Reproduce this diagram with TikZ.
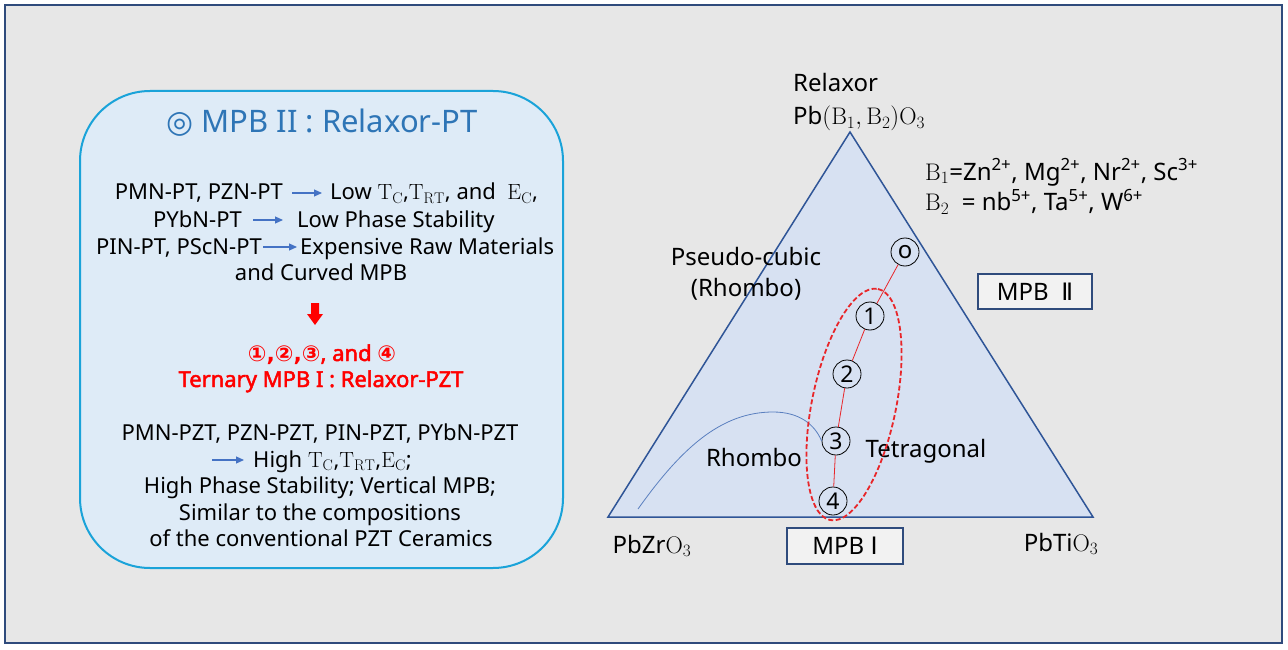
\documentclass[tikz,border=0pt]{standalone}
\usepackage{fontspec}
\newfontfamily\nsans{Noto Sans}[AutoFakeBold=2.2]
\newfontfamily\dejavu{DejaVu Sans}
\usetikzlibrary{arrows.meta}
\definecolor{bgray}{HTML}{E7E7E7}
\definecolor{frameblue}{HTML}{2F4B7C}
\definecolor{boxfill}{HTML}{DEEBF7}
\definecolor{boxline}{HTML}{1AA3D9}
\definecolor{trifill}{HTML}{D7E1F2}
\definecolor{triline}{HTML}{2F5597}
\definecolor{titleblue}{HTML}{2E75B6}
\definecolor{arrowblue}{HTML}{4472C4}
\definecolor{mpbred}{HTML}{FF0000}
\definecolor{ellred}{HTML}{E8262A}
\definecolor{curveblue}{HTML}{5A7FBF}
\definecolor{mpbfill}{HTML}{F2F2F2}
\begin{document}
\begin{tikzpicture}[x=1pt,y=-1pt,
  txt/.style={inner sep=0pt, font=\nsans\fontsize{22}{26}\selectfont},
  redtxt/.style={inner sep=0pt, text=mpbred, font=\nsans\bfseries\fontsize{22}{26}\selectfont},
  rtxt/.style={inner sep=0pt, font=\nsans\fontsize{24}{28}\selectfont},
  barrow/.style={-{Triangle[length=8pt,width=7pt]}, arrowblue, line width=1.2pt},
  num/.style={circle, draw, line width=0.8pt, inner sep=0pt, minimum size=28pt, font=\nsans\fontsize{23}{23}\selectfont},
  mpbbox/.style={draw=frameblue, fill=mpbfill, line width=1.5pt, inner sep=0pt, font=\nsans\fontsize{24}{28}\selectfont}
]
\useasboundingbox (0,0) rectangle (1288,650);
\fill[white] (0,0) rectangle (1288,650);
\draw[frameblue, fill=bgray, line width=2pt] (5,5) rectangle (1282,643);

% left rounded box
\draw[boxline, fill=boxfill, line width=2pt, rounded corners=70pt] (80,91) rectangle (563,568);

\node[anchor=base, inner sep=0pt, text=titleblue, font=\nsans\fontsize{31}{31}\selectfont] (title) at (322,133) {{\dejavu ◎} MPB II : Relaxor-PT};

\node[txt, anchor=base east] (l1a) at (283,200) {PMN-PT, PZN-PT};
\node[txt, anchor=base west] (l1b) at (330,200) {Low $\mathrm{T_C}$,$\mathrm{T_{RT}}$, and \ $\mathrm{E_C}$,};
\draw[barrow] ([shift={(9,-7)}]l1a.base east) -- ([shift={(-8,-7)}]l1b.base west);

\node[txt, anchor=base east] (l2a) at (242,227) {PYbN-PT};
\node[txt, anchor=base west] (l2b) at (297,227) {Low Phase Stability};
\draw[barrow] ([shift={(11,-7)}]l2a.base east) -- ([shift={(-14,-7)}]l2b.base west);

\node[txt, anchor=base east] (l3a) at (262,254) {PIN-PT, PScN-PT};
\node[txt, anchor=base west] (l3b) at (300,254) {Expensive Raw Materials};
\draw[barrow] ([shift={(1,-7)}]l3a.base east) -- ([shift={(-3,-7)}]l3b.base west);

\node[txt, anchor=base] (l4) at (321,280) {and Curved MPB};

\fill[mpbred] (311,303) -- (319,303) -- (319,314) -- (323,314) -- (315,325) -- (307,314) -- (311,314) -- cycle;

\node[redtxt, anchor=base] (r1) at (322,361) {{\dejavu\bfseries ①,②,③}, and {\dejavu\bfseries ④}};
\node[redtxt, anchor=base] (r2) at (321,387) {Ternary MPB I : Relaxor-PZT};

\node[txt, anchor=base] (m1) at (320,440) {PMN-PZT, PZN-PZT, PIN-PZT, PYbN-PZT};
\coordinate (m2s) at (212,460);
\node[txt, anchor=base west] (m2) at (253,467) {High $\mathrm{T_C}$,$\mathrm{T_{RT}}$,$\mathrm{E_C}$;};
\draw[barrow] (m2s) -- ([shift={(-9,-7)}]m2.base west);
\node[txt, anchor=base] (m3) at (320,493) {High Phase Stability; Vertical MPB;};
\node[txt, anchor=base] (m4) at (320,520) {Similar to the compositions};
\node[txt, anchor=base] (m5) at (321,546) {of the conventional PZT Ceramics};

% triangle
\draw[triline, fill=trifill, line width=1.5pt, line join=miter] (850,132) -- (1093,517) -- (608,517) -- cycle;

\node[rtxt, anchor=base west] (relax) at (793,92) {Relaxor};
\node[rtxt, anchor=base west] (pbb) at (793,125) {Pb$(\mathrm{B}_1,\mathrm{B}_2)\mathrm{O}_3$};
\node[rtxt, anchor=base west] (bone) at (925,180) {$\mathrm{B}_1$=Zn\textsuperscript{2+}, Mg\textsuperscript{2+}, Nr\textsuperscript{2+}, Sc\textsuperscript{3+}};
\node[rtxt, anchor=base west] (btwo) at (925,211) {$\mathrm{B}_2$ \ = nb\textsuperscript{5+}, Ta\textsuperscript{5+}, W\textsuperscript{6+}};
\node[rtxt, anchor=base] (pc1) at (746,265) {Pseudo-cubic};
\node[rtxt, anchor=base] (pc2) at (746,296) {(Rhombo)};
\node[mpbbox, minimum width=114pt, minimum height=35pt] (mpb2) at (1035,291.5) {MPB \ {\dejavu Ⅱ}};
\node[mpbbox, minimum width=116pt, minimum height=36pt] (mpb1) at (845,546) {MPB {\dejavu Ⅰ}};
\node[rtxt, anchor=base] (pzo) at (652,553) {PbZr$\mathrm{O}_3$};
\node[rtxt, anchor=base] (pto) at (1061,551) {PbTi$\mathrm{O}_3$};
\node[rtxt, anchor=base] (rh) at (754,466) {Rhombo};
\node[rtxt, anchor=base] (tet) at (926,457) {Tetragonal};

% circled points
\node[num, font=\nsans\fontsize{24}{24}\selectfont] (c0) at (905,252) {o};
\node[num] (c1) at (870,316) {1};
\node[num] (c2) at (847,374) {2};
\node[num] (c3) at (836,441) {3};
\node[num] (c4) at (833,501) {4};

\draw[ellred, line width=0.8pt] (c0) -- (c1);
\draw[ellred, line width=0.8pt] (c1) -- (c2);
\draw[ellred, line width=0.8pt] (c2) -- (c3);
\draw[ellred, line width=0.8pt] (c3) -- (c4);

% blue curve
\coordinate (bc0) at (638,509);
\draw[curveblue, line width=0.8pt] (bc0) .. controls (680,450) and (720,412) .. (773,412) .. controls (800,412) and (815,425) .. (c3.west);

% dashed ellipse
\draw[ellred, line width=1.8pt, dash pattern=on 5pt off 2.5pt, rotate around={78.3:(854,404.5)}] (854,404.5) ellipse [x radius=118, y radius=42];
\end{tikzpicture}
\end{document}
